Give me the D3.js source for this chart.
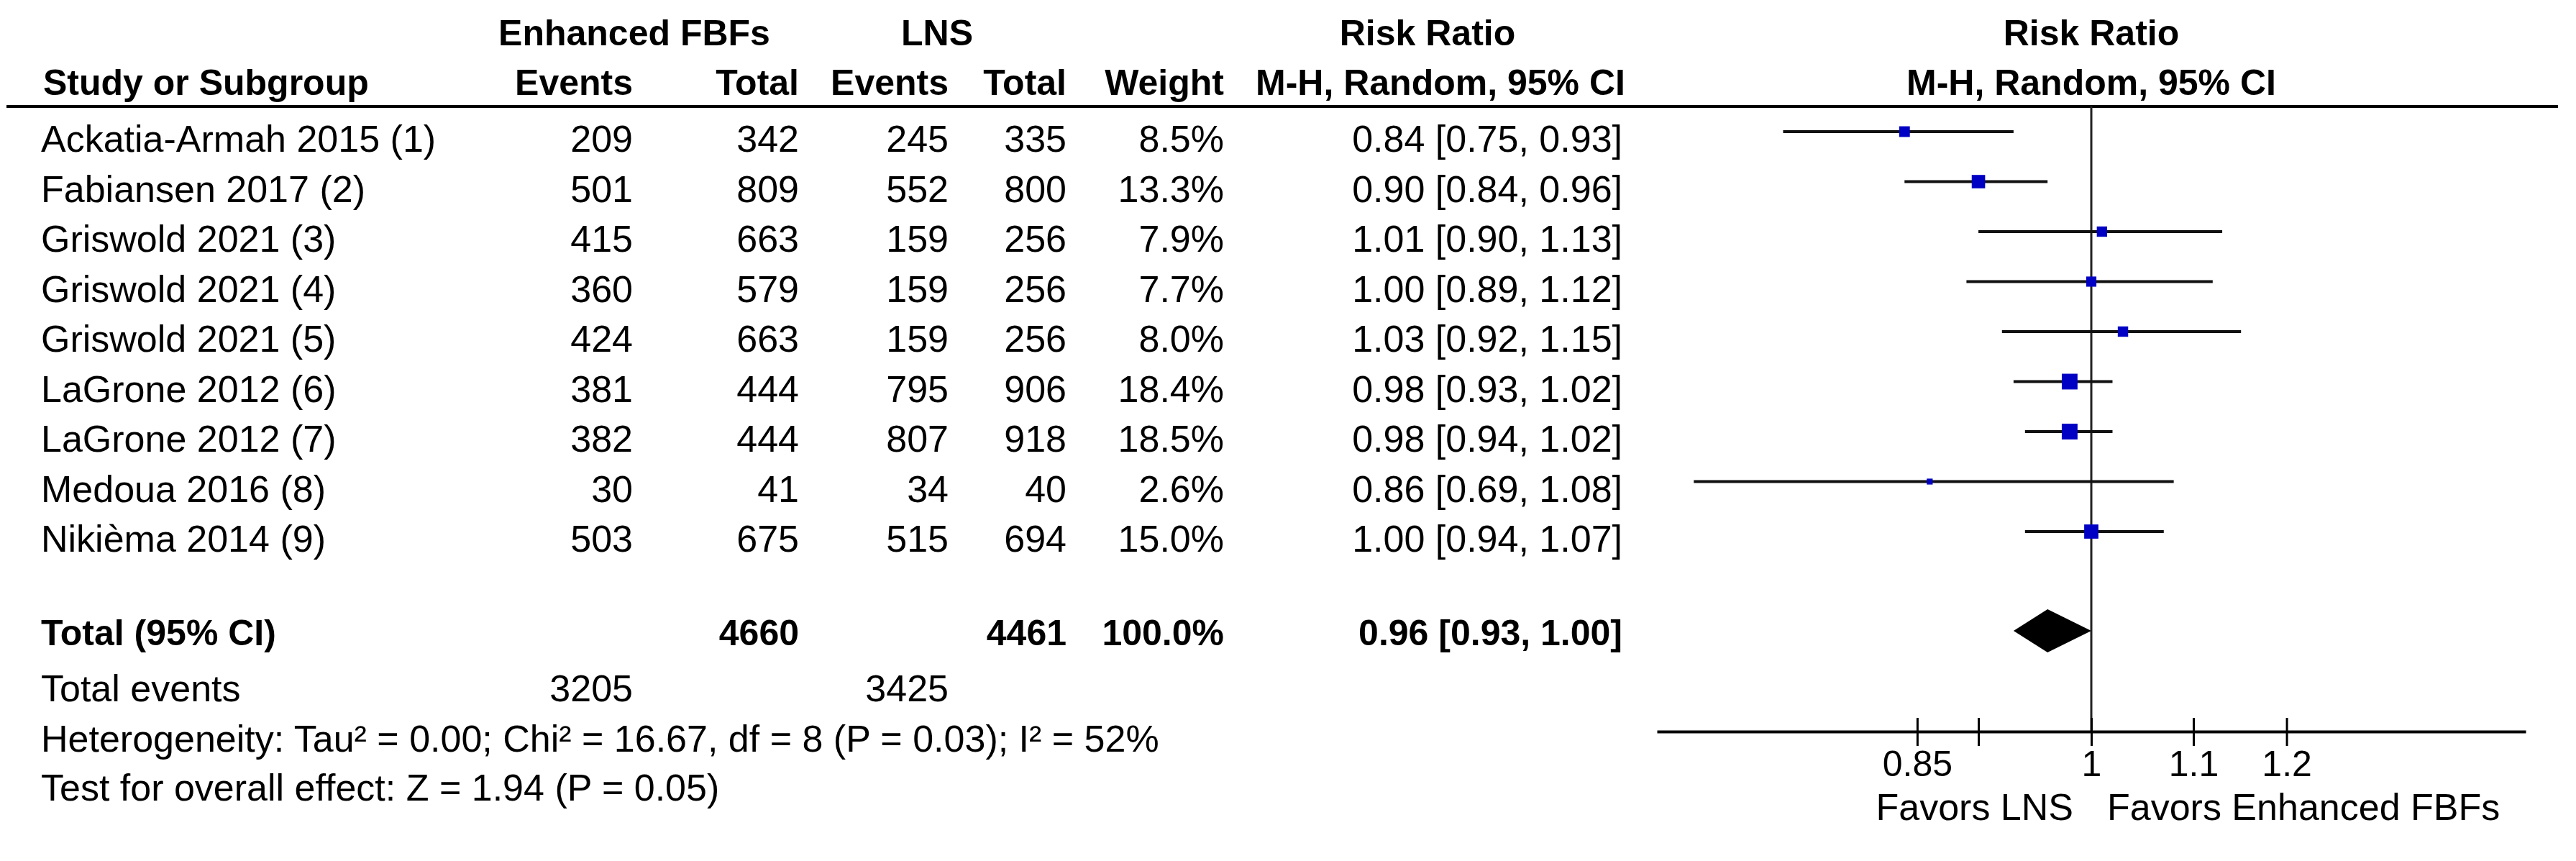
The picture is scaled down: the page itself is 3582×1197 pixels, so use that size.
<!DOCTYPE html>
<html>
<head>
<meta charset="utf-8">
<script src="https://cdn.jsdelivr.net/npm/d3@7"></script>
<style>
  html, body { margin: 0; padding: 0; background: #ffffff; }
  svg text { font-family: "Liberation Sans", Arial, sans-serif; fill: #000; }
</style>
</head>
<body>
<div id="chart"></div>
<script>
// ---------- data ----------
const studies = ["Ackatia-Armah 2015 (1)", "Fabiansen 2017 (2)", "Griswold 2021 (3)", "Griswold 2021 (4)",
  "Griswold 2021 (5)", "LaGrone 2012 (6)", "LaGrone 2012 (7)", "Medoua 2016 (8)", "Nikièma 2014 (9)"];
const expEvents = [209, 501, 415, 360, 424, 381, 382, 30, 503];
const expTotal  = [342, 809, 663, 579, 663, 444, 444, 41, 675];
const ctlEvents = [245, 552, 159, 159, 159, 795, 807, 34, 515];
const ctlTotal  = [335, 800, 256, 256, 256, 906, 918, 40, 694];
const weights   = [8.5, 13.3, 7.9, 7.7, 8.0, 18.4, 18.5, 2.6, 15.0];
const rr        = [0.84, 0.90, 1.01, 1.00, 1.03, 0.98, 0.98, 0.86, 1.00];
const ciLow     = [0.75, 0.84, 0.90, 0.89, 0.92, 0.93, 0.94, 0.69, 0.94];
const ciHigh    = [0.93, 0.96, 1.13, 1.12, 1.15, 1.02, 1.02, 1.08, 1.07];

const totalExpN = 4660, totalCtlN = 4461, totalWeight = 100.0;
const totalRR = 0.96, totalLow = 0.93, totalHigh = 1.00;
const totalExpEvents = 3205, totalCtlEvents = 3425;
const heterogeneityText = "Heterogeneity: Tau² = 0.00; Chi² = 16.67, df = 8 (P = 0.03); I² = 52%";
const overallText = "Test for overall effect: Z = 1.94 (P = 0.05)";

const tickValues = [0.85, 0.9, 1, 1.1, 1.2];
const tickLabels = ["0.85", "", "1", "1.1", "1.2"];
const favorLeft = "Favors LNS", favorRight = "Favors Enhanced FBFs";

// ---------- layout ----------
const W = 3582, H = 1197;
const svg = d3.select("#chart").append("svg").attr("width", W).attr("height", H);
svg.append("rect").attr("width", W).attr("height", H).attr("fill", "#fff");

const FS = 52, FSB = 50;
const colRight = { ee: 880, et: 1111, ce: 1319, ct: 1483, w: 1702, ci: 2256 };
const xStudy = 57;
const row0 = 211, rowStep = 69.5;
const rowY = d3.scaleLinear().domain([0, 1]).range([row0, row0 + rowStep]);

const x = d3.scaleLog().domain([2 / 3, 1.5]).range([2304, 3512]);
const fmt2 = d3.format(".2f");
const fmt1 = d3.format(".1f");

function txt(xp, yp, s, anchor, bold, size) {
  svg.append("text").attr("x", xp).attr("y", yp)
    .attr("text-anchor", anchor || "start")
    .attr("font-weight", bold ? "bold" : "normal")
    .attr("font-size", size || (bold ? FSB : FS))
    .text(s);
}

// headers
txt(882, 63, "Enhanced FBFs", "middle", true);
txt(1303, 63, "LNS", "middle", true);
txt(1985, 63, "Risk Ratio", "middle", true);
txt(x(1), 63, "Risk Ratio", "middle", true);
txt(60, 132, "Study or Subgroup", "start", true);
txt(colRight.ee, 132, "Events", "end", true);
txt(colRight.et, 132, "Total", "end", true);
txt(colRight.ce, 132, "Events", "end", true);
txt(colRight.ct, 132, "Total", "end", true);
txt(colRight.w, 132, "Weight", "end", true);
txt(2003, 132, "M-H, Random, 95% CI", "middle", true);
txt(x(1), 132, "M-H, Random, 95% CI", "middle", true);

svg.append("line").attr("x1", 9).attr("x2", 3557).attr("y1", 148).attr("y2", 148)
  .attr("stroke", "#000").attr("stroke-width", 4);

// vertical line of no effect
const axisY = 1017;
svg.append("line").attr("x1", x(1)).attr("x2", x(1)).attr("y1", 148).attr("y2", axisY)
  .attr("stroke", "#222").attr("stroke-width", 3);

// study rows
studies.forEach((s, i) => {
  const y = rowY(i);
  txt(xStudy, y, s, "start", false);
  txt(colRight.ee, y, expEvents[i], "end");
  txt(colRight.et, y, expTotal[i], "end");
  txt(colRight.ce, y, ctlEvents[i], "end");
  txt(colRight.ct, y, ctlTotal[i], "end");
  txt(colRight.w, y, fmt1(weights[i]) + "%", "end");
  txt(colRight.ci, y, `${fmt2(rr[i])} [${fmt2(ciLow[i])}, ${fmt2(ciHigh[i])}]`, "end");
});

const marks = svg.append("g");
marks.selectAll("line.ci").data(studies).join("line").attr("class", "ci")
  .attr("x1", (d, i) => x(ciLow[i])).attr("x2", (d, i) => x(ciHigh[i]))
  .attr("y1", (d, i) => rowY(i) - 28).attr("y2", (d, i) => rowY(i) - 28)
  .attr("stroke", "#111").attr("stroke-width", 4);
const side = w => 5.1 * Math.sqrt(w);
marks.selectAll("rect.box").data(studies).join("rect").attr("class", "box")
  .attr("x", (d, i) => x(rr[i]) - side(weights[i]) / 2)
  .attr("y", (d, i) => rowY(i) - 28 - side(weights[i]) / 2)
  .attr("width", (d, i) => side(weights[i]))
  .attr("height", (d, i) => side(weights[i]))
  .attr("fill", "#0000c4");

// total row
const totY = 897;
txt(xStudy, totY, "Total (95% CI)", "start", true);
txt(colRight.et, totY, totalExpN, "end", true);
txt(colRight.ct, totY, totalCtlN, "end", true);
txt(colRight.w, totY, fmt1(totalWeight) + "%", "end", true);
txt(colRight.ci, totY, `${fmt2(totalRR)} [${fmt2(totalLow)}, ${fmt2(totalHigh)}]`, "end", true);
const dy = 877;
svg.append("path")
  .attr("d", `M${x(totalLow)},${dy} L${x(totalRR)},${dy - 30} L${x(totalHigh)},${dy} L${x(totalRR)},${dy + 30} Z`)
  .attr("fill", "#000");

txt(xStudy, 975, "Total events", "start");
txt(colRight.ee, 975, totalExpEvents, "end");
txt(colRight.ce, 975, totalCtlEvents, "end");
txt(xStudy, 1045, heterogeneityText, "start");
txt(xStudy, 1113, overallText, "start");

// axis
const axis = d3.axisBottom(x).tickValues(tickValues)
  .tickFormat((d, i) => tickLabels[i]).tickSize(0).tickPadding(0);
const gAxis = svg.append("g").attr("transform", `translate(0,${axisY})`).call(axis);
gAxis.select(".domain").attr("stroke", "#000").attr("stroke-width", 4);
gAxis.selectAll(".tick line").attr("y1", -19).attr("y2", 20).attr("stroke", "#000").attr("stroke-width", 3);
gAxis.selectAll(".tick text").attr("dy", null).attr("y", 62)
  .attr("font-size", 50).attr("font-family", "Liberation Sans, Arial, sans-serif").attr("fill", "#000");

txt(x(1) - 25, 1140, favorLeft, "end", false);
txt(x(1) + 22, 1140, favorRight, "start", false);
</script>
</body>
</html>
